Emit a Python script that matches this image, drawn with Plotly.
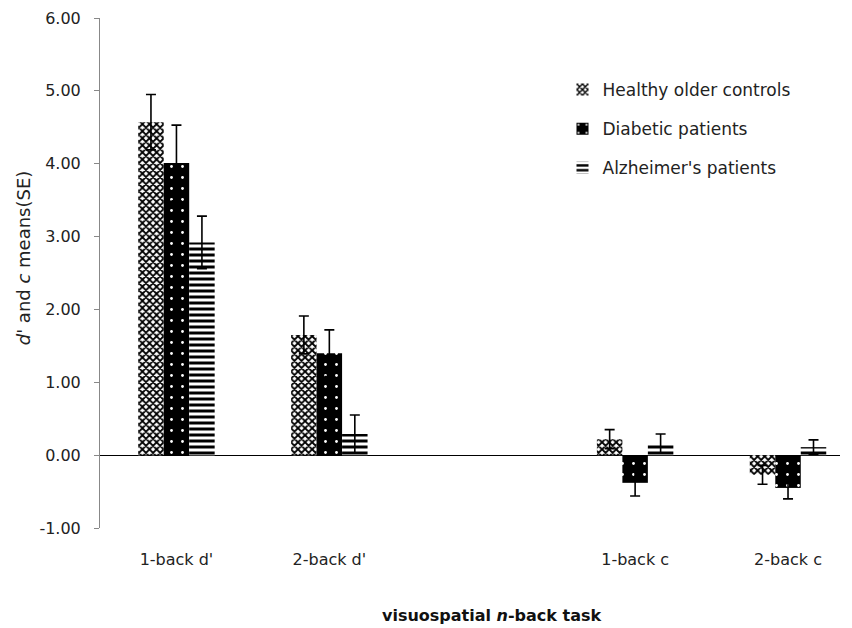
import plotly.graph_objects as go

categories = ["1-back d'", "2-back d'", " ", "1-back c", "2-back c"]
bar_cats = ["1-back d'", "2-back d'", "1-back c", "2-back c"]

healthy = [4.57, 1.65, 0.22, -0.27]
healthy_se = [0.38, 0.26, 0.13, 0.13]
diabetic = [4.01, 1.40, -0.38, -0.45]
diabetic_se = [0.52, 0.32, 0.18, 0.15]
alzheimer = [2.92, 0.29, 0.16, 0.11]
alzheimer_se = [0.36, 0.26, 0.13, 0.10]

y_tick_vals = [-1, 0, 1, 2, 3, 4, 5, 6]
y_tick_text = ["-1.00", "0.00", "1.00", "2.00", "3.00", "4.00", "5.00", "6.00"]

series = [
    ("Healthy older controls", healthy, healthy_se,
     dict(shape="x", fgcolor="#000000", bgcolor="#ffffff", size=5, solidity=0.6, fgopacity=1)),
    ("Diabetic patients", diabetic, diabetic_se,
     dict(shape=".", fgcolor="#ffffff", bgcolor="#000000", size=11, solidity=0.05, fgopacity=1)),
    ("Alzheimer's patients", alzheimer, alzheimer_se,
     dict(shape="-", fgcolor="#000000", bgcolor="#ffffff", size=6, solidity=0.5, fgopacity=1)),
]

fig = go.Figure()
for i, (name, vals, se, pat) in enumerate(series):
    fig.add_trace(go.Bar(
        x=bar_cats, y=vals, name=name, legendgroup=str(i),
        marker=dict(color=pat["bgcolor"], pattern=pat, line=dict(width=0)),
        error_y=dict(type="data", array=se, visible=True, color="black",
                     thickness=1.6, width=5),
    ))

font = "DejaVu Sans"
fig.update_layout(
    width=852, height=628,
    margin=dict(l=92, r=20, t=10, b=108),
    plot_bgcolor="white", paper_bgcolor="white",
    barmode="group", bargap=0.5, bargroupgap=0,
    font=dict(family=font, size=14, color="#222"),
    showlegend=True,
    legend=dict(x=0.625, y=0.894, xanchor="left", yanchor="top",
                traceorder="grouped", tracegroupgap=14,
                font=dict(family=font, size=17, color="#222"),
                itemwidth=30, bgcolor="rgba(0,0,0,0)"),
    xaxis=dict(type="category", categoryorder="array", categoryarray=categories,
               range=[-0.5, 4.34], showline=False, ticks="", showgrid=False,
               automargin=False, ticklabelstandoff=20,
               tickfont=dict(family=font, size=16, color="#222")),
    yaxis=dict(range=[-1, 6], tickvals=y_tick_vals, ticktext=y_tick_text,
               showgrid=False,
               showline=True, linecolor="#888", linewidth=1,
               ticks="outside", ticklen=5, tickcolor="#888",
               automargin=False, ticklabelstandoff=10,
               zeroline=True, zerolinecolor="black", zerolinewidth=1,
               tickfont=dict(family=font, size=16, color="#222")),
    annotations=[
        dict(text="<i>d'</i> and <i>c</i> means(SE)", textangle=-90,
             xref="paper", yref="paper", x=-0.104, y=0.529,
             xanchor="center", yanchor="middle", showarrow=False,
             font=dict(family=font, size=18, color="#222")),
        dict(text="<b>visuospatial <i>n</i>-back task</b>",
             xref="paper", yref="paper", x=0.53, y=-0.1725,
             xanchor="center", yanchor="middle", showarrow=False,
             font=dict(family=font, size=16, color="#111")),
    ],
)

fig.write_html("out.html")
